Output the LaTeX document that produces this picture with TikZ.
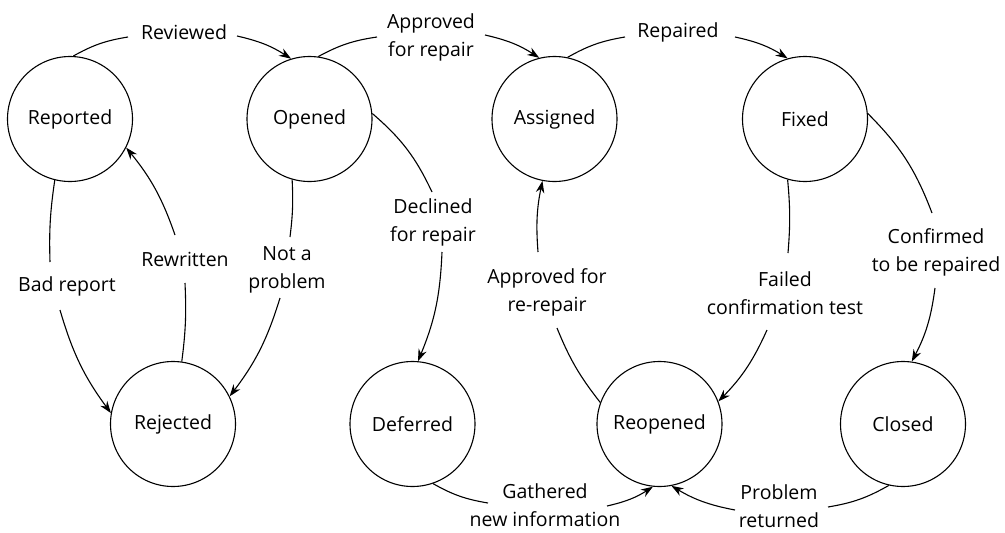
\documentclass[tikz,border=0pt]{standalone}
\usepackage{fontspec}
\setmainfont{Open Sans}
\usetikzlibrary{arrows.meta}
\begin{document}
\begin{tikzpicture}[x=1pt,y=-1pt,
 state/.style={circle,draw,line width=1.1pt,minimum size=125pt,inner sep=0pt,font=\fontsize{19.5}{29}\selectfont},
 lab/.style={align=center,inner sep=0pt,font=\fontsize{19.5}{28}\selectfont},
 conn/.style={line width=1.1pt},
 arr/.style={conn,-{Stealth[length=12pt,width=8.5pt]}}]
\useasboundingbox (0,0) rectangle (1005,533);
% states
\node[state] (rep) at (70,119) {Reported};
\node[state] (ope) at (309.5,119) {Opened};
\node[state] (asg) at (554.5,119) {Assigned};
\node[state] (fix) at (805,119) {Fixed};
\node[state] (rej) at (173,424) {Rejected};
\node[state] (def) at (412.5,424) {Deferred};
\node[state] (reo) at (659.5,424) {Reopened};
\node[state] (clo) at (903,424) {Closed};
% labels
\node[lab] (lRev) at (184,32) {Reviewed};
\node[lab] (lApp) at (431,37) {Approved\\for repair};
\node[lab] (lRep) at (678,32) {Repaired};
\node[lab] (lNot) at (287,270) {Not a\\problem};
\node[lab] (lBad) at (67,286) {Bad report};
\node[lab] (lRew) at (185,259) {Rewritten};
\node[lab] (lDec) at (433,222) {Declined\\for repair};
\node[lab] (lAre) at (547,292) {Approved for\\re-repair};
\node[lab] (lFai) at (785,293) {Failed\\confirmation test};
\node[lab] (lCon) at (936,252) {Confirmed\\to be repaired};
\node[lab] (lGat) at (545,505) {Gathered\\new information};
\node[lab] (lPro) at (779,506) {Problem\\returned};
% gap ends beside the labels
\coordinate (a1) at (128,37);  \coordinate (a2) at (237,36);
\coordinate (b1) at (377,37);  \coordinate (b2) at (485,35);
\coordinate (c1) at (625,37);  \coordinate (c2) at (735,37);
\coordinate (d1) at (290,237); \coordinate (d2) at (280,298);
\coordinate (e1) at (50,262);  \coordinate (e2) at (60,310);
\coordinate (f1) at (185,283); \coordinate (f2) at (175,235);
\coordinate (g1) at (432,192); \coordinate (g2) at (442,252);
\coordinate (h1) at (557,328); \coordinate (h2) at (538,252);
\coordinate (i1) at (788,253); \coordinate (i2) at (767,330);
\coordinate (j1) at (932,213); \coordinate (j2) at (935,288);
\coordinate (k1) at (488,503); \coordinate (k2) at (607,506);
\coordinate (m1) at (828,507); \coordinate (m2) at (735,510);
% connectors
\draw[conn] (rep.87) to[bend left=10] (a1);
\draw[arr] (a2) to[bend left=10] (ope.107);
\draw[conn] (ope.82) to[bend left=10] (b1);
\draw[arr] (b2) to[bend left=10] (asg.104);
\draw[conn] (asg.78) to[bend left=10] (c1);
\draw[arr] (c2) to[bend left=10] (fix.106);
\draw[conn] (ope.254) to[bend left=5] (d1);
\draw[arr] (d2) to[bend left=10] (rej.26);
\draw[conn] (rep.256) to[bend right=5] (e1);
\draw[arr] (e2) to[bend right=10] (rej.170);
\draw[conn] (rej.82) to[bend right=5] (f1);
\draw[arr] (f2) to[bend right=10] (rep.-27);
\draw[conn] (ope.5) to[bend left=12] (g1);
\draw[arr] (g2) to[bend left=10] (def.85);
\draw[conn] (reo.160) to[bend left=8] (h1);
\draw[arr] (h2) to[bend left=8] (asg.259);
\draw[conn] (fix.254) to[bend left=5] (i1);
\draw[arr] (i2) to[bend left=10] (reo.21);
\draw[conn] (fix.5) to[bend left=12] (j1);
\draw[arr] (j2) to[bend left=10] (clo.82);
\draw[conn] (def.289) to[bend right=10] (k1);
\draw[arr] (k2) to[bend right=10] (reo.264);
\draw[conn] (clo.257) to[bend left=10] (m1);
\draw[arr] (m2) to[bend left=10] (reo.281);
\end{tikzpicture}
\end{document}
